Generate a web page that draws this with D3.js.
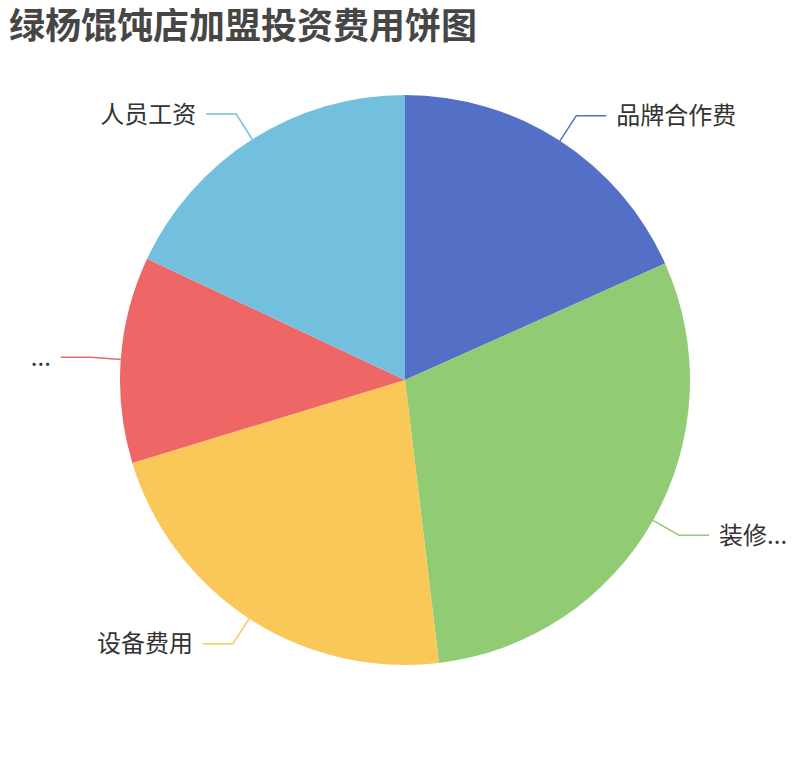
<!DOCTYPE html>
<html>
<head>
<meta charset="utf-8">
<script src="https://cdn.jsdelivr.net/npm/d3@7"></script>
<style>
	html, body {margin: 0; padding: 0; background: #fff;}
	svg {display: block;}
</style>
</head>
<body>
<svg id="chart" width="810" height="760"></svg>
<script>
	'use strict';

	// Data (share of the pie, in percent).
	var names = ['品牌合作费', '装修...', '设备费用', '...', '人员工资'];
	var values = [18.3, 29.8, 22.2, 11.7, 18.0];
	var colors = ['#5470c6', '#91cc75', '#fac858', '#ee6666', '#73c0de'];
	var title = '绿杨馄饨店加盟投资费用饼图';

	var width = 810, height = 760,
			cx = 405, cy = 380, radius = 285,
			len1 = 30, len2 = 30, gap = 10,
			font = '"Noto Sans CJK SC", "Noto Sans", sans-serif';

	var svg = d3.select('#chart');

	svg.append('text')
		.attr('x', 9)
		.attr('y', 39)
		.attr('fill', '#464646')
		.style('font-family', font)
		.style('font-size', '36px')
		.style('font-weight', 'bold')
		.text(title);

	var slices = names.map(function(n, i) {return {name: n, value: values[i], color: colors[i]};});

	var pie = d3.pie().sort(null).value(function(d) {return d.value;});
	var arc = d3.arc().innerRadius(0).outerRadius(radius);

	var g = svg.append('g').attr('transform', 'translate(' + cx + ',' + cy + ')');
	var arcs = pie(slices);

	g.selectAll('.slice').data(arcs)
		.enter().append('path')
		.attr('class', 'slice')
		.attr('fill', function(d) {return d.data.color;})
		.attr('d', arc);

	// Label lines: edge -> out by len1 -> horizontal by len2.
	function linePoints(d) {
		var a = (d.startAngle + d.endAngle) / 2,
				s = Math.sin(a), c = -Math.cos(a),
				p0 = [s * radius, c * radius],
				p1 = [s * (radius + len1), c * (radius + len1)],
				dir = s >= 0 ? 1 : -1,
				p2 = [p1[0] + dir * len2, p1[1]];
		return {pts: [p0, p1, p2], dir: dir};}

	var labels = g.selectAll('.label').data(arcs)
		.enter().append('g').attr('class', 'label');

	labels.append('polyline')
		.attr('fill', 'none')
		.attr('stroke', function(d) {return d.data.color;})
		.attr('stroke-width', 1.5)
		.attr('points', function(d) {return linePoints(d).pts.map(function(p) {return p.join(',');}).join(' ');});

	labels.append('text')
		.attr('x', function(d) {var l = linePoints(d); return l.pts[2][0] + l.dir * gap;})
		.attr('y', function(d) {return linePoints(d).pts[2][1] - 2;})
		.attr('dominant-baseline', 'central')
		.attr('text-anchor', function(d) {return linePoints(d).dir > 0 ? 'start' : 'end';})
		.attr('fill', '#333')
		.style('font-family', font)
		.style('font-size', '24px')
		.text(function(d) {return d.data.name;});
</script>
</body>
</html>
